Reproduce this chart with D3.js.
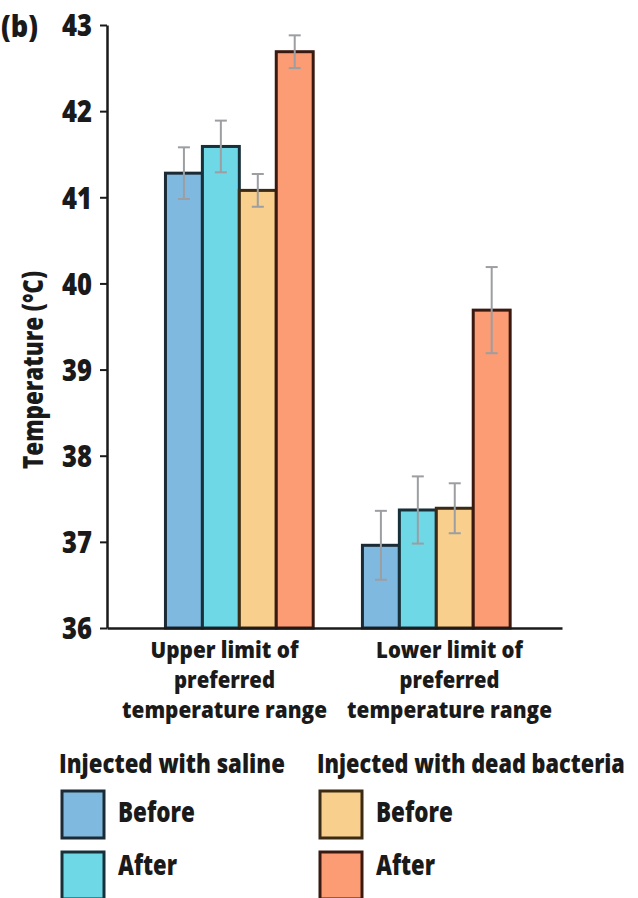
<!DOCTYPE html>
<html>
<head>
<meta charset="utf-8">
<script src="https://cdn.jsdelivr.net/npm/d3@7"></script>
<style>
  html, body { margin: 0; padding: 0; background: #fff; }
  svg { display: block; }
  text { font-family: "Open Sans", "DejaVu Sans", sans-serif; font-weight: 800; fill: #1a1a1a; }
</style>
</head>
<body>
<svg id="chart" width="638" height="898"></svg>
<script>
// Preferred-temperature limits (°C), mean ± error, before/after injection
const categories = ["Upper limit of preferred temperature range", "Lower limit of preferred temperature range"];
const categoryLines = [["Upper limit of", "preferred", "temperature range"], ["Lower limit of", "preferred", "temperature range"]];
const seriesNames = ["Saline before", "Saline after", "Bacteria before", "Bacteria after"];
const salineBefore   = [41.28, 36.96];
const salineAfter    = [41.59, 37.37];
const bacteriaBefore = [41.08, 37.39];
const bacteriaAfter  = [42.69, 39.69];
const salineBeforeErr   = [0.30, 0.40];
const salineAfterErr    = [0.30, 0.39];
const bacteriaBeforeErr = [0.19, 0.29];
const bacteriaAfterErr  = [0.19, 0.50];
const yTicks = [36, 37, 38, 39, 40, 41, 42, 43];
const legendGroups = ["Injected with saline", "Injected with dead bacteria"];
const legendLabels = ["Before", "After"];

const fills   = ["#80b9df", "#6ed8e6", "#f8cf8c", "#fb9c74"];
const strokes = ["#1b2a35", "#17303a", "#3b2a14", "#3a1a10"];

const values = [salineBefore, salineAfter, bacteriaBefore, bacteriaAfter];
const errors = [salineBeforeErr, salineAfterErr, bacteriaBeforeErr, bacteriaAfterErr];

const svg = d3.select("#chart");

// Draws a text whose glyphs are squeezed horizontally to a given width
// (the typeface is set narrow, like a condensed bold).
function narrowText(parent, str, x, y, size, width, anchor = "start", rotate = 0) {
  const g = parent.append("g");
  const t = g.append("text").attr("font-size", size).attr("text-anchor", anchor).text(str);
  const natural = t.node().getComputedTextLength();
  const s = width / natural;
  g.attr("transform", `translate(${x},${y}) rotate(${rotate}) scale(${s},1)`);
  return t;
}

const xLeft = 107, xRight = 562, yBottom = 628, yTop = 25;

const y = d3.scaleLinear().domain([36, 43]).range([yBottom, yTop]);
const x0 = d3.scaleBand().domain(categories).range([xLeft, xRight])
  .paddingInner(0.25).paddingOuter(0.28).align(0.53);
const x1 = d3.scaleBand().domain(seriesNames).range([0, x0.bandwidth()]).padding(0);
const xLabel = d3.scaleBand().domain(categories).range([112, xRight]);

// Bars
const groups = svg.append("g").selectAll("g")
  .data(categories)
  .join("g")
  .attr("transform", d => `translate(${x0(d)},0)`);

groups.selectAll("rect")
  .data((c, ci) => seriesNames.map((s, si) => ({ s, si, v: values[si][ci], e: errors[si][ci] })))
  .join("rect")
  .attr("x", d => x1(d.s))
  .attr("y", d => y(d.v))
  .attr("width", x1.bandwidth())
  .attr("height", d => y(36) - y(d.v))
  .attr("fill", d => fills[d.si])
  .attr("stroke", d => strokes[d.si])
  .attr("stroke-width", 3);

// Error bars
const capHalf = 6;
const eb = groups.selectAll("g.err")
  .data((c, ci) => seriesNames.map((s, si) => ({ s, si, v: values[si][ci], e: errors[si][ci] })))
  .join("g")
  .attr("class", "err")
  .attr("stroke", "#9c9ea2")
  .attr("stroke-width", 2)
  .attr("transform", d => `translate(${x1(d.s) + x1.bandwidth() / 2},0)`);
eb.append("line").attr("y1", d => y(d.v + d.e)).attr("y2", d => y(d.v - d.e));
eb.append("line").attr("x1", -capHalf).attr("x2", capHalf).attr("y1", d => y(d.v + d.e)).attr("y2", d => y(d.v + d.e));
eb.append("line").attr("x1", -capHalf).attr("x2", capHalf).attr("y1", d => y(d.v - d.e)).attr("y2", d => y(d.v - d.e));

// Y axis
const yAxis = svg.append("g")
  .attr("transform", `translate(${xLeft},0)`)
  .call(d3.axisLeft(y).tickValues(yTicks).tickFormat(d3.format("d")).tickSize(7).tickSizeOuter(0).tickPadding(8));
yAxis.select(".domain").attr("stroke", "#1a1a1a").attr("stroke-width", 2.5);
yAxis.selectAll(".tick line").attr("stroke", "#1a1a1a").attr("stroke-width", 2);
yAxis.selectAll(".tick text")
  .attr("font-size", 30)
  .attr("font-family", null)
  .attr("fill", "#1a1a1a")
  .attr("dy", "0.36em")
  .attr("textLength", 30)
  .attr("lengthAdjust", "spacingAndGlyphs");

// X axis
const xAxis = svg.append("g")
  .attr("transform", `translate(0,${yBottom})`)
  .call(d3.axisBottom(x0).tickSize(0).tickSizeOuter(0).tickFormat(""));
xAxis.select(".domain").attr("stroke", "#1a1a1a").attr("stroke-width", 2.5);

// Category labels (three lines each)
const lineWidths = [[148, 101, 205], [147, 100, 205]];
categories.forEach((c, ci) => {
  categoryLines[ci].forEach((line, li) => {
    narrowText(svg, line, xLabel(c) + xLabel.bandwidth() / 2, 658 + li * 30, 22,
      lineWidths[ci][li], "middle");
  });
});

// Panel letter and axis title
narrowText(svg, "(b)", 1, 37, 30, 37);
narrowText(svg, "Temperature (°C)", 43, 370, 29, 198, "middle", -90);

// Legend
const legendX = [59, 317];
const headingWidths = [226, 308];
const labelWidths = [77, 59];
legendGroups.forEach((g, gi) => {
  narrowText(svg, g, legendX[gi], 773, 27, headingWidths[gi]);
  legendLabels.forEach((lab, li) => {
    const si = gi * 2 + li;
    svg.append("rect")
      .attr("x", legendX[gi] + 3).attr("y", 791 + li * 61)
      .attr("width", 42).attr("height", 47)
      .attr("fill", fills[si]).attr("stroke", strokes[si]).attr("stroke-width", 3);
    narrowText(svg, lab, legendX[gi] + 59, 822 + li * 53, 28, labelWidths[li]);
  });
});
</script>
</body>
</html>
